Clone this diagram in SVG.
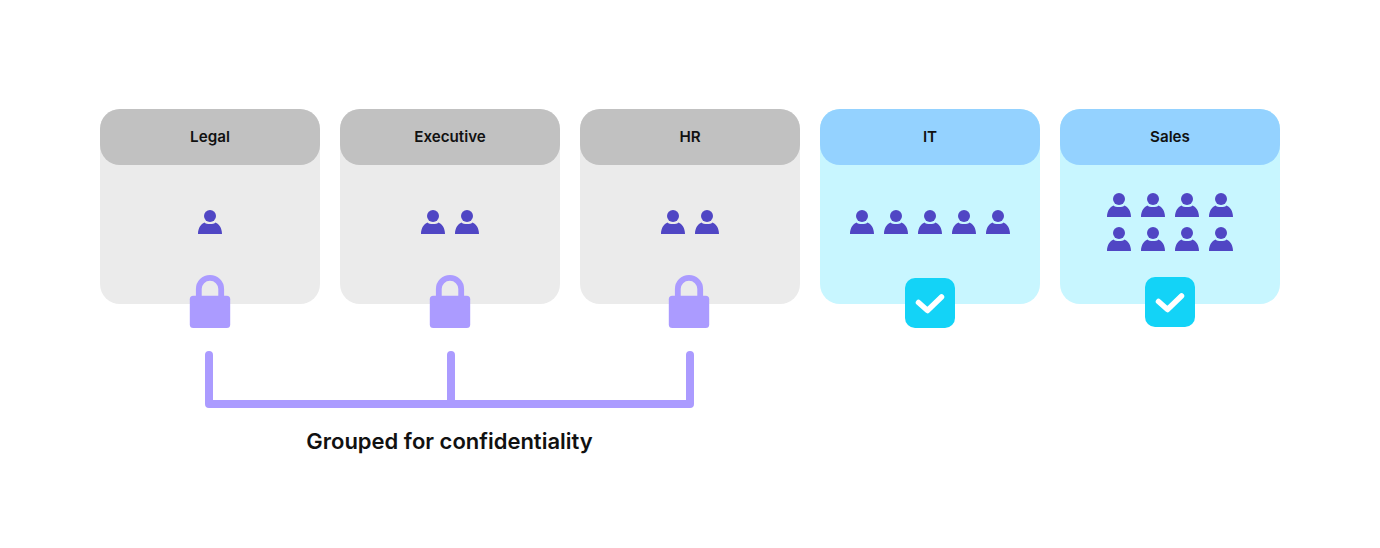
<svg xmlns="http://www.w3.org/2000/svg" xmlns:xlink="http://www.w3.org/1999/xlink" width="1380" height="548" viewBox="0 0 1380 548">
<style>
text{font-family:Inter,"Liberation Sans",sans-serif;font-weight:600;fill:#111;text-anchor:middle}
.t{font-size:15.2px}
.g{fill:#ebebeb}.gh{fill:#c1c1c1}
.b{fill:#c8f6ff}.bh{fill:#94d2ff}
.p{fill:#5046c4}
.l{fill:#ab9bff}
.sh{fill:none;stroke:#ab9bff;stroke-width:5.8}
.c{fill:#13d3f7}
.k{fill:none;stroke:#fff;stroke-width:5.5;stroke-linecap:round;stroke-linejoin:round}
.br{fill:none;stroke:#ab9bff;stroke-width:8;stroke-linecap:round;stroke-linejoin:round}
</style>
<defs>
<g id="person">
<circle cx="0" cy="-18" r="6"/>
<path d="M-12 0C-12 -6 -9 -10 -5.500 -11.500C-4 -9.500 4 -9.500 5.500 -11.500C9 -10 12 -6 12 0Z"/>
</g>
<g id="lock">
<path class="sh" d="M-11.200 24V14A11.200 11.200 0 0 1 11.200 14V24"/>
<rect class="l" x="-20.200" y="20.700" width="40.400" height="32.300" rx="3.500"/>
</g>
<g id="check">
<rect class="c" x="-25" y="-25" width="50" height="50" rx="10"/>
<path class="k" d="M-11.500 -0.500L-2.500 7.500L11.500 -6"/>
</g>
</defs>
<g id="legal">
<rect class="g" x="100" y="109" width="220" height="195" rx="20"/>
<rect class="gh" x="100" y="109" width="220" height="56" rx="20"/>
<text class="t" x="210" y="142">Legal</text>
<use href="#person" class="p" x="210" y="234"/>
<use href="#lock" x="210" y="275"/>
</g>
<g id="executive">
<rect class="g" x="340" y="109" width="220" height="195" rx="20"/>
<rect class="gh" x="340" y="109" width="220" height="56" rx="20"/>
<text class="t" x="450" y="142">Executive</text>
<use href="#person" class="p" x="433" y="234"/>
<use href="#person" class="p" x="467" y="234"/>
<use href="#lock" x="450" y="275"/>
</g>
<g id="hr">
<rect class="g" x="580" y="109" width="220" height="195" rx="20"/>
<rect class="gh" x="580" y="109" width="220" height="56" rx="20"/>
<text class="t" x="690" y="142">HR</text>
<use href="#person" class="p" x="673" y="234"/>
<use href="#person" class="p" x="707" y="234"/>
<use href="#lock" x="689" y="275"/>
</g>
<g id="it">
<rect class="b" x="820" y="109" width="220" height="195" rx="20"/>
<rect class="bh" x="820" y="109" width="220" height="56" rx="20"/>
<text class="t" x="930" y="142">IT</text>
<use href="#person" class="p" x="862" y="234"/>
<use href="#person" class="p" x="896" y="234"/>
<use href="#person" class="p" x="930" y="234"/>
<use href="#person" class="p" x="964" y="234"/>
<use href="#person" class="p" x="998" y="234"/>
<use href="#check" x="930" y="303"/>
</g>
<g id="sales">
<rect class="b" x="1060" y="109" width="220" height="195" rx="20"/>
<rect class="bh" x="1060" y="109" width="220" height="56" rx="20"/>
<text class="t" x="1170" y="142">Sales</text>
<use href="#person" class="p" x="1119" y="217"/>
<use href="#person" class="p" x="1153" y="217"/>
<use href="#person" class="p" x="1187" y="217"/>
<use href="#person" class="p" x="1221" y="217"/>
<use href="#person" class="p" x="1119" y="251"/>
<use href="#person" class="p" x="1153" y="251"/>
<use href="#person" class="p" x="1187" y="251"/>
<use href="#person" class="p" x="1221" y="251"/>
<use href="#check" x="1170" y="302"/>
</g>
<g id="connectors">
<path class="br" d="M209 355V404H690V355M451 355V404"/>
</g>
<g id="caption">
<text x="449.500" y="449" font-size="22">Grouped for confidentiality</text>
</g>
</svg>
